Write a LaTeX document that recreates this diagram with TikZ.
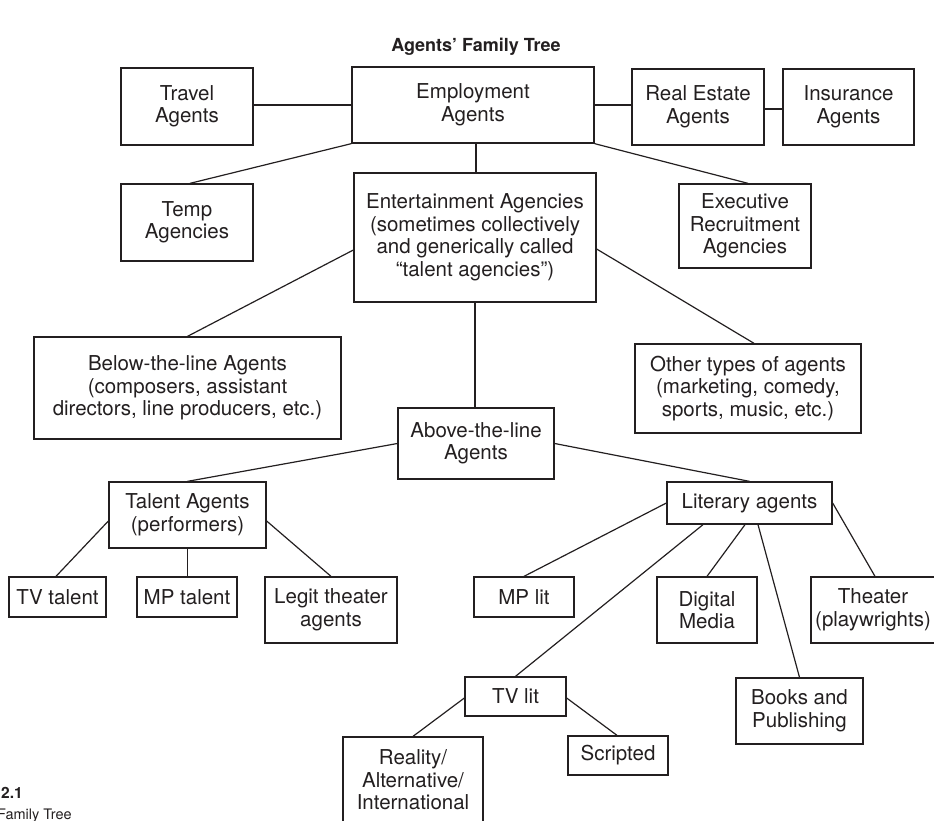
\documentclass[tikz,border=0pt]{standalone}
\usepackage{fontspec}
\setmainfont{TeX Gyre Heros}
\usetikzlibrary{calc}
\definecolor{ink}{RGB}{35,31,32}
\tikzset{
  box/.style={draw=ink, line width=1.3pt, inner sep=0pt, align=center, text=ink,
    font=\fontsize{20.5}{22.5}\selectfont},
  link/.style={draw=ink, line width=1.2pt},
}
\newcommand{\bx}[6]{\node[box, minimum width=#4pt, minimum height=#5pt] (#1) at (#2,#3) {#6};}
\begin{document}
\begin{tikzpicture}[x=1pt,y=-1pt]
\useasboundingbox (0,0) rectangle (934,821);
\clip (0,0) rectangle (934,821);
\node[text=ink, font=\fontsize{18}{20}\selectfont\bfseries] (title) at (476,47) {Agents’ Family Tree};
\bx{travel}{187}{106.5}{132}{77}{Travel\\Agents}
\bx{emp}{473}{105}{242}{76}{Employment\\Agents}
\bx{real}{698}{107}{132}{76}{Real Estate\\Agents}
\bx{ins}{848.5}{107}{131}{76}{Insurance\\Agents}
\bx{temp}{187}{222.5}{132}{77}{Temp\\Agencies}
\bx{ent}{475}{237.5}{242}{129}{Entertainment Agencies\\(sometimes collectively\\and generically called\\“talent agencies”)}
\bx{exec}{745}{226}{132}{84}{Executive\\Recruitment\\Agencies}
\bx{below}{187.5}{388}{307}{102}{Below-the-line Agents\\(composers, assistant\\directors, line producers, etc.)}
\bx{other}{748}{388.5}{226}{89}{Other types of agents\\(marketing, comedy,\\sports, music, etc.)}
\bx{above}{476}{443.5}{156}{71}{Above-the-line\\Agents}
\bx{talent}{187.5}{515}{157}{66}{Talent Agents\\(performers)}
\bx{literary}{749.5}{503}{165}{42}{Literary agents}
\bx{tvtal}{57.5}{597}{97}{40}{TV talent}
\bx{mptal}{187}{597}{100}{40}{MP talent}
\bx{legit}{331}{610}{132}{66}{Legit theater\\agents}
\bx{mplit}{524}{597}{100}{40}{MP lit}
\bx{digital}{707}{610}{100}{66}{Digital\\Media}
\bx{theater}{873}{610}{124}{66}{Theater\\(playwrights)}
\bx{tvlit}{515.5}{696.5}{101}{39}{TV lit}
\bx{books}{799.5}{711}{127}{66}{Books and\\Publishing}
\bx{reality}{413}{780}{140}{86}{Reality/\\Alternative/\\International}
\bx{scripted}{618}{755.5}{100}{39}{Scripted}
\node[text=ink, anchor=base west, inner sep=0pt, font=\fontsize{15.5}{17}\selectfont\bfseries] (fignum) at (1,798) {2.1};
\node[text=ink, anchor=base west, inner sep=0pt, font=\fontsize{14.5}{16}\selectfont] (figcap) at (-3,819) {Family Tree};
% connectors
\draw[link] (emp.west) -- (emp.west -| travel.east);
\draw[link] (emp.east) -- (emp.east -| real.west);
\draw[link] ([yshift=-2pt]real.east) -- ([yshift=-2pt]ins.west);
\draw[link] (emp.south west) -- ([xshift=3pt]temp.north);
\draw[link] ([xshift=3pt]emp.south) -- ([xshift=1pt]ent.north);
\draw[link] (emp.south east) -- ([xshift=3pt]exec.north);
\draw[link] ([yshift=-12.5pt]ent.west) -- (below.north);
\draw[link] ([yshift=-11.5pt]ent.east) -- ([xshift=6pt]other.north);
\draw[link] (ent.south) -- (ent.south |- above.north);
\draw[link] (above.west) -- (talent.north);
\draw[link] (above.east) -- (literary.north);
\draw[link] ([yshift=-6pt]talent.west) -- ([xshift=-1.5pt]tvtal.north);
\draw[link] (talent.south) -- (talent.south |- mptal.north);
\draw[link] ([yshift=-6pt]talent.east) -- (legit.north);
\draw[link] (literary.west) -- (mplit.north);
\draw[link] ([xshift=-4.5pt]literary.south) -- (digital.north);
\draw[link] (literary.east) -- ([xshift=2pt]theater.north);
\draw[link] ([xshift=-46.5pt]literary.south) -- (tvlit.north);
\draw[link] ([xshift=8.5pt]literary.south) -- (books.north);
\draw[link] ([yshift=-1.5pt]tvlit.west) -- (reality.north);
\draw[link] ([yshift=-1.5pt]tvlit.east) -- ([xshift=-1pt]scripted.north);
\end{tikzpicture}
\end{document}
